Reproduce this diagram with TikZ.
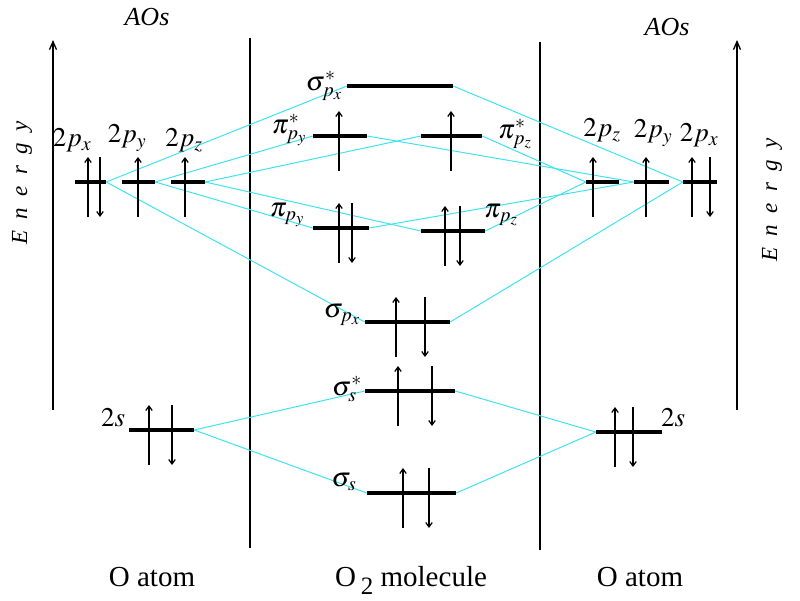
\documentclass[tikz,border=0pt]{standalone}
\usepackage{mathptmx}
\usepackage{fontspec}
\setmainfont{Liberation Serif}
\usepackage{tikz}
\usetikzlibrary{arrows.meta}
\definecolor{moCyan}{HTML}{3FE3EE}
\definecolor{moInk}{HTML}{000000}
\tikzset{
  mo diagram/.style={text=moInk, line join=round},
  mo level/.style={fill=moInk, inner sep=0pt, minimum height=4pt},
  mo link/.style={draw=moCyan, line width=1pt},
  mo spin/.style={-{Straight Barb[length=4.5pt,width=6.5pt]}, draw=moInk, line width=1.2pt},
  mo wall/.style={draw=moInk, line width=2.6pt},
  mo axis/.style={-{Straight Barb[length=8pt,width=7pt]}, draw=moInk, line width=1.3pt},
  mo label/.style={font=\fontsize{27}{29}\selectfont, inner sep=0pt},
  mo title/.style={font=\fontsize{26}{28}\selectfont\itshape, inner sep=0pt},
  mo energy/.style={font=\fontsize{23}{25}\selectfont\itshape, inner sep=0pt, rotate=90},
  mo foot/.style={font=\fontsize{29}{31}\selectfont, inner sep=0pt, anchor=base}
}
\begin{document}
\begin{tikzpicture}[mo diagram,x=1pt,y=-1pt]
\useasboundingbox (0,0) rectangle (800,600);
% energy axes and separators
\draw[mo axis] (53,410) -- (53,40);
\draw[mo axis] (737,410) -- (737,40);
\draw[mo wall] (250,38) -- (250,548);
\draw[mo wall] (540,42) -- (540,550);
\node[mo energy] (enL) at (22,183) {E\enspace n\enspace e\enspace r\enspace g\enspace y};
\node[mo energy] (enR) at (772,200) {E\enspace n\enspace e\enspace r\enspace g\enspace y};
\node[mo title] (aosL) at (147,17) {AOs};
\node[mo title] (aosR) at (667,27) {AOs};
% energy levels
\foreach \n/\x/\y/\w in {Lpx/90.5/182/31, Lpy/138.5/182/33, Lpz/188/182/34,
    Rpz/602.5/182/33, Rpy/651.5/182/35, Rpx/700/182/34,
    Ls/161.5/430/65, Rs/629/432/66,
    sigpxS/400/86/106, pipyS/340/136/54, pipzS/451.5/136/61,
    pipy/341/228/56, pipz/453/231/64, sigpx/407.5/322/85,
    sigsS/410/391/90, sigs/411.5/493/89}
  \node[mo level,minimum width=\w pt] (\n) at (\x,\y) {};
% correlation lines
\foreach \a/\b in {Ls.east/sigsS.west, Ls.east/sigs.west, Rs.west/sigsS.east, Rs.west/sigs.east,
    Lpx.east/sigpxS.west, Lpx.east/sigpx.west, Rpx.west/sigpxS.east, Rpx.west/sigpx.east,
    Lpy.east/pipyS.west, Lpy.east/pipy.west, Rpy.west/pipyS.east, Rpy.west/pipy.east,
    Lpz.east/pipzS.west, Lpz.east/pipz.west, Rpz.west/pipzS.east, Rpz.west/pipz.east}
  \draw[mo link] (\a) -- (\b);
% electrons
\foreach \n/\x in {Lpx/88, Lpy/138, Lpz/185, Rpz/593, Rpy/646, Rpx/692, Ls/149, Rs/615,
    pipyS/339, pipzS/451, pipy/339, pipz/445, sigpx/396, sigsS/398, sigs/403}
  \draw[mo spin] (\x,0 |- \n.center) ++(0,35) -- ++(0,-60);
\foreach \n/\x in {Lpx/100, Rpx/710, Ls/172, Rs/633, pipy/352, pipz/460,
    sigpx/425, sigsS/432, sigs/429}
  \draw[mo spin] (\x,0 |- \n.center) ++(0,-25) -- ++(0,60);
% orbital labels
\node[mo label] (tLpx) at (72,140) {$2p_x$};
\node[mo label] (tLpy) at (127,138) {$2p_y$};
\node[mo label] (tLpz) at (184,140) {$2p_z$};
\node[mo label] (tRpz) at (602,130) {$2p_z$};
\node[mo label] (tRpy) at (653,133) {$2p_y$};
\node[mo label] (tRpx) at (699,135) {$2p_x$};
\node[mo label] (tLs) at (113,418) {$2s$};
\node[mo label] (tRs) at (673,418) {$2s$};
\node[mo label] (tsigpxS) at (324,86) {$\sigma^*_{p_x}$};
\node[mo label] (tpipyS) at (289,130) {$\pi^*_{p_y}$};
\node[mo label] (tpipzS) at (515,134) {$\pi^*_{p_z}$};
\node[mo label] (tpipy) at (287,215) {$\pi_{p_y}$};
\node[mo label] (tpipz) at (501,215) {$\pi_{p_z}$};
\node[mo label] (tsigpx) at (342,315) {$\sigma_{p_x}$};
\node[mo label] (tsigsS) at (347,389) {$\sigma^*_s$};
\node[mo label] (tsigs) at (344,482) {$\sigma_s$};
% bottom captions
\node[mo foot] (atomL) at (152,586) {O atom};
\node[mo foot] (molec) at (411,586) {O\,\raisebox{-.3em}{\fontsize{25}{25}\selectfont 2} molecule};
\node[mo foot] (atomR) at (640,586) {O atom};
\end{tikzpicture}
\end{document}
